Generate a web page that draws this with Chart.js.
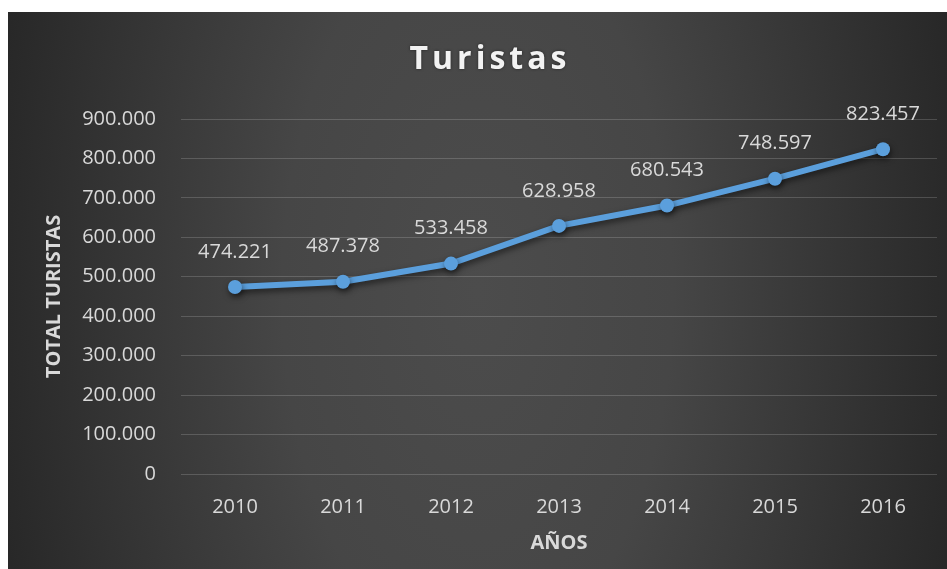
<!DOCTYPE html>
<html>
<head>
<meta charset="utf-8">
<script src="https://cdn.jsdelivr.net/npm/chart.js@4"></script>
<style>
  html { background: #2f2f2f; }
  body { margin: 0; overflow: hidden; }
  #topEdge { position: absolute; left: 0; top: 0; width: 100%; height: 12px; background: #fff; }
  #leftEdge { position: fixed; left: 0; top: 0; width: 8px; height: 100%; background: #fff; }
  #wrap { position: absolute; left: 8px; top: 12px; width: 939px; height: 557px; }
  #myChart { display: block; }
</style>
</head>
<body>
<div id="topEdge"></div>
<div id="leftEdge"></div>
<div id="wrap"><canvas id="myChart"></canvas></div>
<script>
const years = ['2010', '2011', '2012', '2013', '2014', '2015', '2016'];
const turistas = [474221, 487378, 533458, 628958, 680543, 748597, 823457];
const titleText = 'Turistas';

const textColor = '#d9d9d9';
const fmt = v => Number(v).toLocaleString('de-DE');

// dark radial background, brighter towards the middle
const background = {
  id: 'background',
  beforeDraw(chart) {
    const { ctx, width, height } = chart;
    ctx.save();
    ctx.translate(width * 0.5, height * 0.5);
    ctx.scale(1, 1.9);
    const g = ctx.createRadialGradient(0, 0, 0, 0, 0, width * 0.52);
    g.addColorStop(0, '#4c4c4c');
    g.addColorStop(0.4, '#464646');
    g.addColorStop(1, '#282828');
    ctx.fillStyle = g;
    ctx.fillRect(-width, -height, width * 2, height * 2);
    ctx.restore();

    ctx.save();
    ctx.font = 'bold 32px "Open Sans"';
    ctx.letterSpacing = '4px';
    ctx.fillStyle = '#f2f2f2';
    ctx.textAlign = 'center';
    ctx.textBaseline = 'middle';
    ctx.shadowColor = 'rgba(0,0,0,0.5)';
    ctx.shadowBlur = 3;
    ctx.fillText(titleText, 482, 48);
    ctx.restore();
  }
};

// shadow under the line, then value labels above each point
const lineShadow = {
  id: 'lineShadow',
  beforeDatasetsDraw(chart) {
    const ctx = chart.ctx;
    ctx.save();
    ctx.shadowColor = 'rgba(0,0,0,0.55)';
    ctx.shadowBlur = 6;
    ctx.shadowOffsetX = 1;
    ctx.shadowOffsetY = 3;
  },
  afterDatasetsDraw(chart) {
    const ctx = chart.ctx;
    ctx.restore();
    const meta = chart.getDatasetMeta(0);
    ctx.save();
    ctx.font = '20px "Open Sans"';
    ctx.fillStyle = textColor;
    ctx.textAlign = 'center';
    ctx.textBaseline = 'middle';
    meta.data.forEach((pt, i) => {
      ctx.fillText(fmt(chart.data.datasets[0].data[i]), pt.x, pt.y - 35);
    });
    ctx.restore();
  }
};

new Chart(document.getElementById('myChart'), {
  type: 'line',
  data: {
    labels: years,
    datasets: [{
      label: 'Total turistas',
      data: turistas,
      borderColor: '#5b9fdc',
      backgroundColor: '#5b9fdc',
      borderWidth: 6,
      pointRadius: 7,
      pointHoverRadius: 7,
      pointBorderWidth: 0,
      tension: 0
    }]
  },
  options: {
    responsive: true,
    maintainAspectRatio: false,
    animation: false,
    layout: { padding: { top: 107, right: 10, left: 0, bottom: 0 } },
    plugins: {
      legend: { display: false },
      title: { display: false },
      tooltip: { enabled: false }
    },
    scales: {
      x: {
        offset: true,
        grid: { display: false },
        border: { display: false },
        ticks: { color: textColor, font: { family: 'Open Sans', size: 20 }, padding: 13 },
        title: {
          display: true,
          text: 'AÑOS',
          color: textColor,
          font: { family: 'Open Sans', size: 20, weight: 'bold' },
          padding: { top: 0, bottom: 14 }
        },
        afterFit(scale) { scale.height = 95; }
      },
      y: {
        min: 0,
        max: 900000,
        grid: { color: 'rgba(255,255,255,0.17)', lineWidth: 1, drawTicks: false },
        border: { display: false },
        ticks: {
          stepSize: 100000,
          color: textColor,
          font: { family: 'Open Sans', size: 20 },
          padding: 25,
          callback: v => fmt(v)
        },
        title: {
          display: true,
          text: 'TOTAL TURISTAS',
          color: textColor,
          font: { family: 'Open Sans', size: 20, weight: 'bold' },
          padding: { top: 34, bottom: 0 }
        },
        afterFit(scale) { scale.width = 173; }
      }
    }
  },
  plugins: [background, lineShadow]
});
</script>
</body>
</html>
